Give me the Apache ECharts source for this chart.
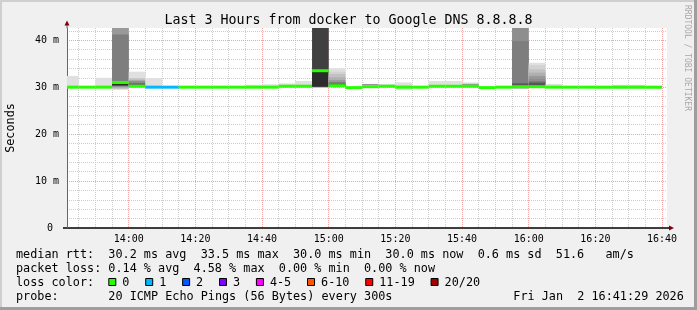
<!DOCTYPE html>
<html><head><meta charset="utf-8">
<script src="https://cdn.jsdelivr.net/npm/echarts@6/dist/echarts.min.js"></script>
<style>html,body{margin:0;padding:0;background:#f0f0f0}#c{width:697px;height:310px}</style>
</head><body><div id="c"></div>
<script>
// ---------------- data ----------------
const titleText = 'Last 3 Hours from docker to Google DNS 8.8.8.8';
const rangeStart = '13:41:29';
const rangeEnd = '16:41:29';
const stepTimes = ['13:40','13:45','13:50','13:55','14:00','14:05','14:10','14:15','14:20','14:25','14:30','14:35',
  '14:40','14:45','14:50','14:55','15:00','15:05','15:10','15:15','15:20','15:25','15:30','15:35',
  '15:40','15:45','15:50','15:55','16:00','16:05','16:10','16:15','16:20','16:25','16:30','16:35'];
const stepMinutes = 5;
const medianRtt = [30.0,30.0,30.0,31.0,30.2,30.0,30.0,30.0,30.0,30.0,30.0,30.0,
  30.0,30.2,30.2,33.5,30.3,29.9,30.1,30.2,30.0,30.0,30.2,30.2,
  30.2,29.9,30.0,30.1,30.1,30.0,30.0,30.0,30.0,30.0,30.0,30.0];
const lossCount = [0,0,0,0,0,1,1,0,0,0,0,0, 0,0,0,0,0,0,0,0,0,0,0,0, 0,0,0,0,0,0,0,0,0,0,0,0];
// smoke per step: [low ms, high ms, ping density]
const smokeBands = [
  [[29.8,32.4,1],[29.9,30.2,3]],
  [[29.9,30.2,2]],
  [[29.9,32.0,1]],
  [[29.5,45,3],[29.9,45,5],[30.2,41.2,7],[30.35,30.8,11]],
  [[30.0,33.3,1],[30.1,31.9,3],[30.1,31.4,6],[30.1,30.85,8]],
  [[29.9,31.9,1]],
  [[29.9,30.2,2]],
  [[29.9,30.2,2]],
  [[29.9,30.2,2]],
  [[29.9,30.2,2]],
  [[29.9,30.2,2]],
  [[29.9,30.5,1]],
  [[29.9,30.6,1]],
  [[30.0,30.8,1]],
  [[30.0,31.3,1],[30.1,30.5,3]],
  [[29.8,45,3],[30.1,45,10],[30.1,33.4,11]],
  [[30.0,34.0,1],[30.1,33.3,2],[30.1,32.8,3],[30.1,32.1,4],[30.2,31.5,5],[30.2,31.1,7],[30.2,30.7,9]],
  [[29.8,30.0,2]],
  [[30.0,30.7,1],[30.45,30.65,6]],
  [[30.0,30.7,1]],
  [[29.4,31.0,1],[29.8,30.4,2]],
  [[29.9,30.2,1]],
  [[30.0,31.3,1]],
  [[30.0,31.3,1]],
  [[30.0,31.0,1],[30.1,30.7,5]],
  [[29.8,30.0,2]],
  [[29.9,30.1,2]],
  [[29.6,45,3],[29.9,45,6],[29.9,39.8,7],[30.0,30.8,9]],
  [[30.0,35.2,1],[30.0,34.7,2],[30.0,33.8,3],[30.05,33.1,4],[30.1,32.4,5],[30.1,31.8,6],[30.1,31.2,8],[30.1,30.85,9]],
  [[29.9,30.7,1]],
  [],
  [],
  [[29.6,30.2,1]],
  [[29.6,30.5,1]],
  [[29.6,30.5,1]],
  [[29.6,30.2,1]]
];
const xGridStart = '13:40';   // first 20-min-aligned grid origin before the range
const xGridEnd = '16:45';
const yMax = 42.6;
const lossLegendLabels = ['0','1','2','3','4-5','6-10','11-19','20/20'];
const lossColors = ['#26ff00','#00b8ff','#0059ff','#7e00ff','#ff00ff','#ff5500','#ff0000','#a10000'];
const statLine1 = 'median rtt:  30.2 ms avg  33.5 ms max  30.0 ms min  30.0 ms now  0.6 ms sd  51.6   am/s';
const statLine2 = 'packet loss: 0.14 % avg  4.58 % max  0.00 % min  0.00 % now';
const probeLabel = 'probe:';
const probeText = '20 ICMP Echo Pings (56 Bytes) every 300s';
const dateText = 'Fri Jan  2 16:41:29 2026';
const watermark = 'RRDTOOL / TOBI OETIKER';

// ---------------- styles / layout ----------------
const shadeColors = ['#e0e0e0','#d2d2d2','#c2c2c2','#b0b0b0','#999999','#8e8e8e','#7e7e7e','#6a6a6a','#555555','#404040','#2c2c2c'];
const MONO = 'DejaVu Sans Mono';
const FS = 11.8, CW = FS * 0.6021;
const PLOT_L = 67, PLOT_T = 28, PLOT_W = 600, PLOT_H = 200;
const gridGrey = '#cdcdcd';
const gridRed = '#f2a4a4';

function toMin(s){const p=s.split(':').map(Number);return p[0]*60+p[1]+(p[2]||0)/60;}
function fmt(m){m=Math.round(m);const h=Math.floor(m/60),mm=m%60;return (h<10?'0':'')+h+':'+(mm<10?'0':'')+mm;}
function lossBucket(n){if(n<=3)return n;if(n<=5)return 4;if(n<=10)return 5;if(n<=19)return 6;return 7;}

const T0 = toMin(rangeStart), T1 = toMin(rangeEnd);
const G0 = toMin(xGridStart), G1 = toMin(xGridEnd);
const pxPerMin = PLOT_W / (T1 - T0);

const smokeData = [];
stepTimes.forEach((t,i)=>{const s=toMin(t);smokeBands[i].forEach(b=>smokeData.push([s,s+stepMinutes,b[0],b[1],b[2]]));});
const medianData = stepTimes.map((t,i)=>{const s=toMin(t);return [s,s+stepMinutes,medianRtt[i],lossCount[i]];});

function renderSmoke(params, api){
  const p1 = api.coord([api.value(0), api.value(3)]);
  const p2 = api.coord([api.value(1), api.value(2)]);
  const r = echarts.graphic.clipRectByRect({x:p1[0],y:p1[1],width:p2[0]-p1[0],height:p2[1]-p1[1]}, params.coordSys);
  if (!r) return;
  return {type:'rect', shape:r, style:{fill: shadeColors[api.value(4)-1]}};
}
function renderMedian(params, api){
  const p1 = api.coord([api.value(0), api.value(2)]);
  const p2 = api.coord([api.value(1), api.value(2)]);
  const r = echarts.graphic.clipRectByRect({x:p1[0],y:p1[1]-1.5,width:p2[0]-p1[0],height:3}, params.coordSys);
  if (!r) return;
  return {type:'rect', shape:r, style:{fill: lossColors[lossBucket(api.value(3))]}};
}

const txt = (x,y,s)=>({type:'text', x:x, y:y, style:{text:s, font:FS+'px "'+MONO+'"', fill:'#000', textVerticalAlign:'middle'}});
const graphics = [
  {type:'rect', shape:{x:0,y:0,width:697,height:2}, style:{fill:'#cfcfcf'}},
  {type:'rect', shape:{x:0,y:0,width:2,height:310}, style:{fill:'#cfcfcf'}},
  {type:'rect', shape:{x:0,y:307,width:697,height:3}, style:{fill:'#9e9e9e'}},
  {type:'rect', shape:{x:694,y:0,width:3,height:310}, style:{fill:'#9e9e9e'}},
  {type:'line', shape:{x1:67,y1:28,x2:67,y2:24}, style:{stroke:'#666',lineWidth:1}},
  {type:'polygon', shape:{points:[[64.5,25.5],[69.5,25.5],[67,20.5]]}, style:{fill:'#7f0000'}},
  {type:'line', shape:{x1:63,y1:228,x2:670,y2:228}, style:{stroke:'#000',lineWidth:1.5}},
  {type:'polygon', shape:{points:[[669,225.5],[669,230.5],[674,228]]}, style:{fill:'#7f0000'}},
  {type:'text', x:687.5, y:5, rotation:-Math.PI/2, style:{text:watermark, font:'8px "'+MONO+'"', fill:'#a8a8a8', textAlign:'left', textVerticalAlign:'middle'}},
  txt(16,254.8,statLine1),
  txt(16,268.8,statLine2),
  txt(16,282.8,'loss color:'),
  txt(16,296.8,probeLabel),
  txt(16+13*CW,296.8,probeText),
  txt(16+70*CW,296.8,dateText)
];
let cx = 108.3;
lossLegendLabels.forEach((lab,i)=>{
  graphics.push({type:'rect', shape:{x:cx+0.5,y:278.5,width:7,height:7}, style:{fill:lossColors[i], stroke:'#000', lineWidth:1}});
  graphics.push(txt(cx+14,282.8,lab));
  cx += 14 + lab.length*CW + 15.8;
});

const chart = echarts.init(document.getElementById('c'), null, {renderer:'canvas'});
chart.setOption({
  animation:false,
  backgroundColor:'#f0f0f0',
  title:{text:titleText, left:'center', top:9, textStyle:{fontFamily:MONO, fontSize:13.3, fontWeight:'normal', color:'#000'}},
  grid:[
    {left:PLOT_L, top:PLOT_T, width:PLOT_W, height:PLOT_H, show:true, backgroundColor:'#ffffff', borderWidth:0, outerBoundsMode:'none', containLabel:false},
    {left:PLOT_L-(T0-G0)*pxPerMin, top:PLOT_T, width:(G1-G0)*pxPerMin, height:PLOT_H, show:false, outerBoundsMode:'none', containLabel:false}
  ],
  xAxis:[
    {type:'value', gridIndex:0, min:T0, max:T1, show:false},
    {type:'value', gridIndex:1, min:G0, max:G1, interval:5, position:'bottom', z:0,
      axisLine:{show:false}, axisLabel:{show:false}, axisTick:{show:false},
      splitLine:{show:true, showMinLine:false, showMaxLine:false, lineStyle:{color:gridGrey, type:[1,1], width:1}}},
    {type:'value', gridIndex:1, min:G0, max:G1, interval:20, position:'bottom', z:1,
      axisLine:{show:false}, axisTick:{show:false},
      axisLabel:{showMinLabel:false, showMaxLabel:false, formatter:v=>fmt(v), fontFamily:MONO, fontSize:10, color:'#000', margin:6},
      splitLine:{show:true, showMinLine:false, showMaxLine:false, lineStyle:{color:gridRed, type:[1,1], width:1}}}
  ],
  yAxis:[
    {type:'value', gridIndex:0, min:0, max:yMax, interval:10, position:'left', z:1,
      name:'Seconds', nameLocation:'middle', nameGap:50, nameRotate:90,
      nameTextStyle:{fontFamily:MONO, fontSize:FS, color:'#000'},
      axisLine:{show:true, lineStyle:{color:'#666', width:1}},
      axisTick:{show:false},
      axisLabel:{showMaxLabel:false, formatter:v=>v===0?'0 ':v+' m', fontFamily:MONO, fontSize:10, color:'#000', margin:8},
      splitLine:{show:true, showMinLine:false, showMaxLine:false, lineStyle:{color:gridRed, type:[1,1], width:1}}},
    {type:'value', gridIndex:0, min:0, max:yMax, interval:2, position:'left', z:0,
      axisLine:{show:false}, axisLabel:{show:false}, axisTick:{show:false},
      splitLine:{show:true, showMinLine:false, showMaxLine:false, lineStyle:{color:gridGrey, type:[1,1], width:1}}},
    {type:'value', gridIndex:1, min:0, max:yMax, show:false, splitLine:{show:false}}
  ],
  series:[
    {type:'custom', name:'smoke', xAxisIndex:0, yAxisIndex:0, renderItem:renderSmoke, data:smokeData, encode:{x:[0,1], y:[2,3]}, clip:true, silent:true},
    {type:'custom', name:'median', xAxisIndex:0, yAxisIndex:0, renderItem:renderMedian, data:medianData, encode:{x:[0,1], y:2}, clip:true, silent:true, z:3}
  ],
  graphic:graphics
});
</script></body></html>
